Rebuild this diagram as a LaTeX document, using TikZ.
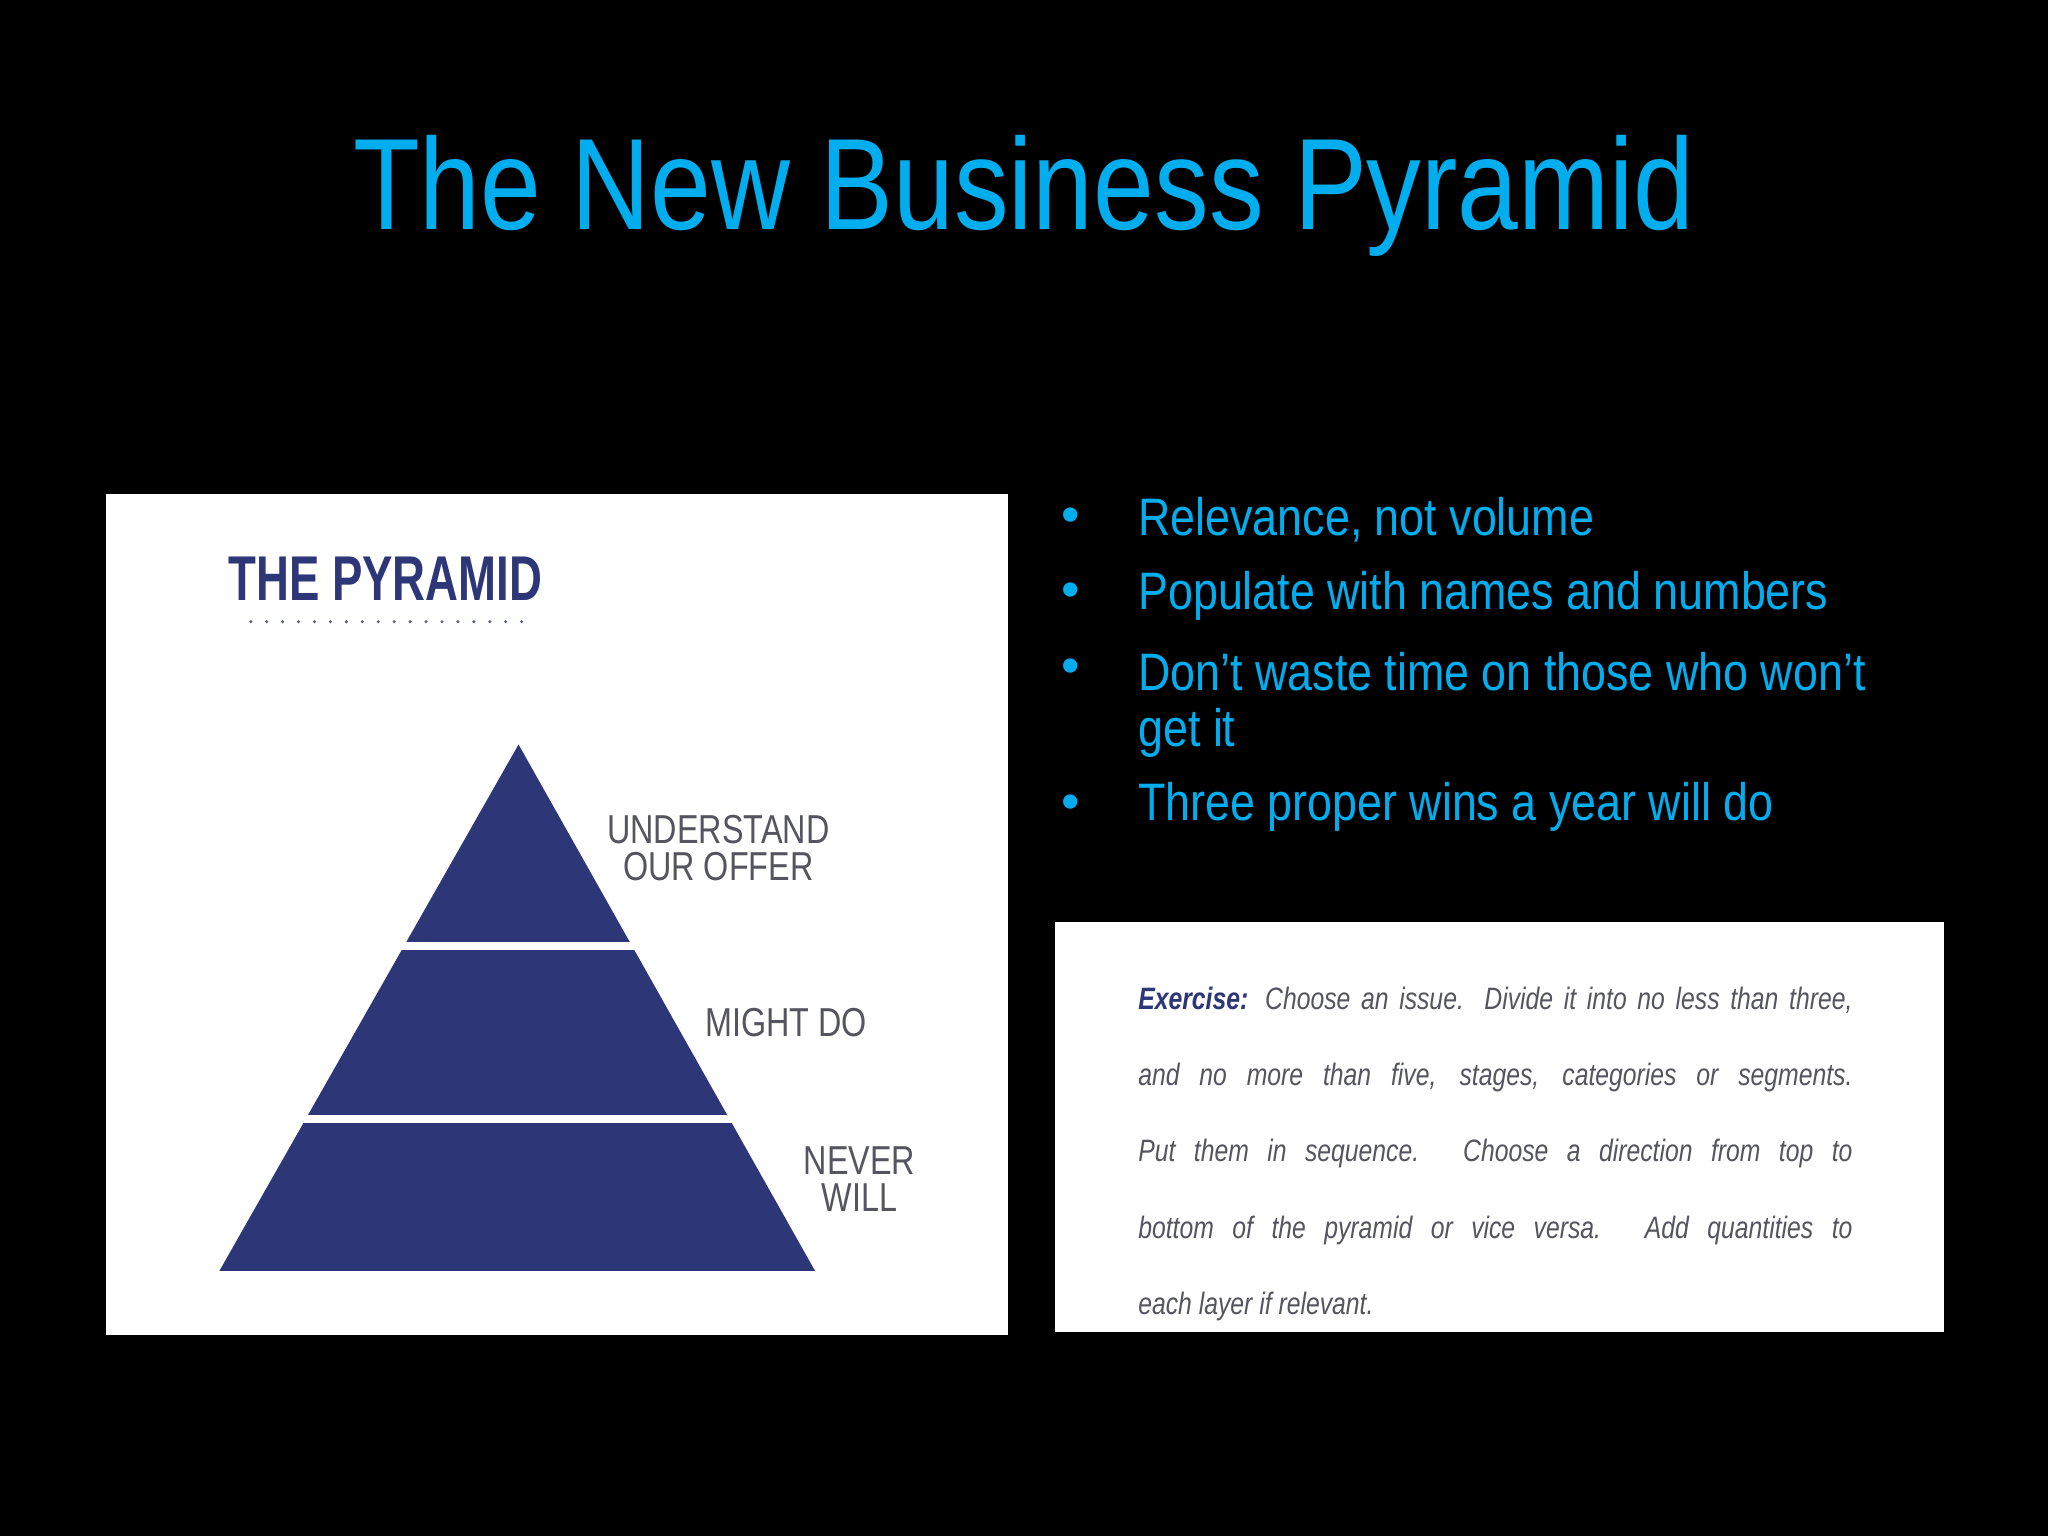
\documentclass[tikz,border=0pt]{standalone}
\usepackage{fontspec}
\setmainfont{Liberation Sans}
\usepackage{graphicx}
\definecolor{cyanT}{RGB}{0,174,239}
\definecolor{navy}{RGB}{45,55,120}
\definecolor{lblgray}{RGB}{85,85,95}
\begin{document}
\begin{tikzpicture}[x=0.013061cm,y=-0.013061cm,
  lbl/.style={text=lblgray,font=\fontsize{11.5}{12.5}\selectfont,align=center,inner sep=0},
  bul/.style={text=cyanT,anchor=west,inner sep=0,font=\fontsize{15}{16}\selectfont},
  dot/.style={text=cyanT,inner sep=0,font=\fontsize{15}{16}\selectfont}]
\useasboundingbox[fill=black] (0,0) rectangle (1568,1176);
\node[text=cyanT,font=\fontsize{37}{40}\selectfont,inner sep=0] (title) at (784,150) {\scalebox{0.84}[1]{The New Business Pyramid}};
% left panel
\fill[white] (81,378) rectangle (772,1022);
\node[text=navy,font=\bfseries\fontsize{18}{20}\selectfont,inner sep=0] (pt) at (295,443) {\scalebox{0.72}[1]{THE PYRAMID}};
\foreach \i in {0,...,17} \fill[navy!80] (192+\i*12.2,476) circle (1.3);
\coordinate (apex) at (397,570);
\coordinate (bl) at (168,973);
\coordinate (br) at (624,973);
\fill[navy] (apex) -- (bl) -- (br) -- cycle;
\draw[white,line width=2.2pt] (250,724.5) -- (540,724.5);
\draw[white,line width=2.2pt] (200,856.5) -- (600,856.5);
\node[lbl] (l1) at (550,653) {\scalebox{0.8}[1]{\begin{tabular}{@{}c@{}}UNDERSTAND\\[-2pt]OUR OFFER\end{tabular}}};
\node[lbl] (l2) at (602,783) {\scalebox{0.8}[1]{MIGHT DO}};
\node[lbl] (l3) at (658,907) {\scalebox{0.8}[1]{\begin{tabular}{@{}c@{}}NEVER\\[-2pt]WILL\end{tabular}}};
% bullets
\foreach \y in {398,456,514,618} \node[dot] at (820,\y) {•};
\node[bul] (b1) at (871,398) {\scalebox{0.85}[1]{Relevance, not volume}};
\node[bul] (b2) at (871,456) {\scalebox{0.85}[1]{Populate with names and numbers}};
\node[bul] (b3) at (871,514) {\scalebox{0.85}[1]{Don’t waste time on those who won’t}};
\node[bul] (b3b) at (871,561) {\scalebox{0.85}[1]{get it}};
\node[bul] (b4) at (871,618) {\scalebox{0.85}[1]{Three proper wins a year will do}};
% exercise box
\fill[white] (808,706) rectangle (1488,1020);
\node[anchor=north west,inner sep=0,text=lblgray] (ex) at (871,755) {\scalebox{0.8}[1]{\parbox{254pt}{\fontsize{8.8}{21.7}\selectfont\itshape
{\bfseries\color{navy}Exercise:} Choose an issue. Divide it into no less than three,\linebreak
and no more than five, stages, categories or segments.\linebreak
Put them in sequence. Choose a direction from top to\linebreak
bottom of the pyramid or vice versa. Add quantities to\linebreak
each layer if relevant.}}};
\end{tikzpicture}
\end{document}
